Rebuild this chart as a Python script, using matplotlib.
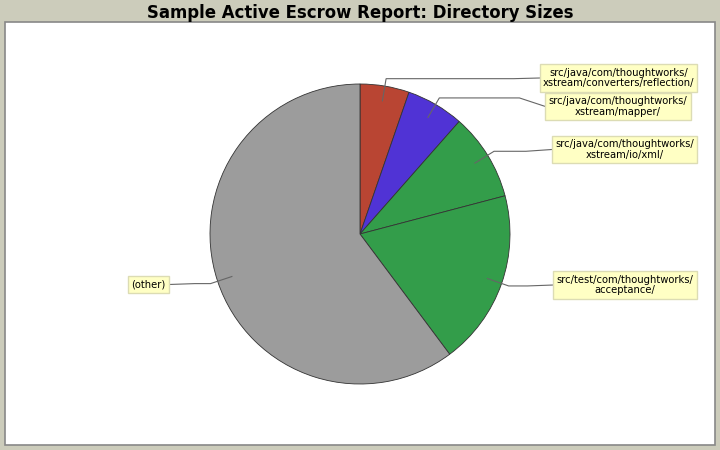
import matplotlib
matplotlib.use("Agg")
import matplotlib.pyplot as plt
from matplotlib.patches import Rectangle
import numpy as np

title = "Sample Active Escrow Report: Directory Sizes"
labels = [
    "src/java/com/thoughtworks/\nxstream/converters/reflection/",
    "src/java/com/thoughtworks/\nxstream/mapper/",
    "src/java/com/thoughtworks/\nxstream/io/xml/",
    "src/test/com/thoughtworks/\nacceptance/",
    "(other)",
]
sizes = [5.3, 6.2, 9.4, 18.9, 60.2]
colors = ["#B94533", "#5033D5", "#339D4A", "#339D4A", "#9C9C9C"]

# label placement (pixel coords, y down)
label_cx = [618.5, 618, 624.5, 625, 148.5]
label_cy = [78, 106.5, 149.5, 285, 284.5]

W, H = 720, 450
fig = plt.figure(figsize=(7.2, 4.5), dpi=100, facecolor="#CCCCBB")
ax = fig.add_axes([0, 0, 1, 1])
ax.set_facecolor("#CCCCBB")

def Y(y):
    return H - y

ax.add_patch(Rectangle((5, Y(445)), 710, 423, facecolor="white",
                       edgecolor="#888888", linewidth=1.2, zorder=0))

cx, cy, r = 360, 234, 150
wedges, _ = ax.pie(sizes, colors=colors, startangle=90, counterclock=False,
                   center=(cx, Y(cy)), radius=r,
                   wedgeprops=dict(edgecolor="#333333", linewidth=0.6))
for w in wedges:
    w.set_zorder(2)

ax.set_xlim(0, W)
ax.set_ylim(0, H)
ax.set_aspect("equal")
ax.axis("off")

fig.text(0.5, 1 - 12.5 / H, title, ha="center", va="center",
         fontsize=11.9, fontweight="bold", family="DejaVu Sans", color="#000000")

texts = []
for lab, lx, ly in zip(labels, label_cx, label_cy):
    t = ax.text(lx, Y(ly), lab, ha="center", va="center", fontsize=7.2,
                family="DejaVu Sans", linespacing=1.12, zorder=5,
                bbox=dict(boxstyle="square,pad=0.32", facecolor="#FFFFC4",
                          edgecolor="#DCDCB4", linewidth=1.0))
    texts.append(t)

fig.canvas.draw()
renderer = fig.canvas.get_renderer()
inv = ax.transData.inverted()
for w, t, ly in zip(wedges, texts, label_cy):
    mid = np.deg2rad((w.theta1 + w.theta2) / 2)
    ax0 = cx + 0.9 * r * np.cos(mid)
    ay0 = Y(cy) + 0.9 * r * np.sin(mid)
    ex = cx + 1.05 * r * np.cos(mid)
    ey = Y(cy) + 1.05 * r * np.sin(mid)
    bb = t.get_bbox_patch().get_window_extent(renderer)
    (bx0, _), (bx1, _) = inv.transform([[bb.x0, bb.y0], [bb.x1, bb.y1]])
    if np.cos(mid) >= 0:
        edge = bx0
        stub = edge - 26
    else:
        edge = bx1
        stub = edge + 26
    xs = [ax0, ex, stub, edge]
    ys = [ay0, ey, ey, Y(ly)]
    ax.plot(xs, ys, color="#666666", linewidth=0.8, zorder=3,
            solid_joinstyle="miter")

fig.savefig("out.png", dpi=100, facecolor=fig.get_facecolor())
